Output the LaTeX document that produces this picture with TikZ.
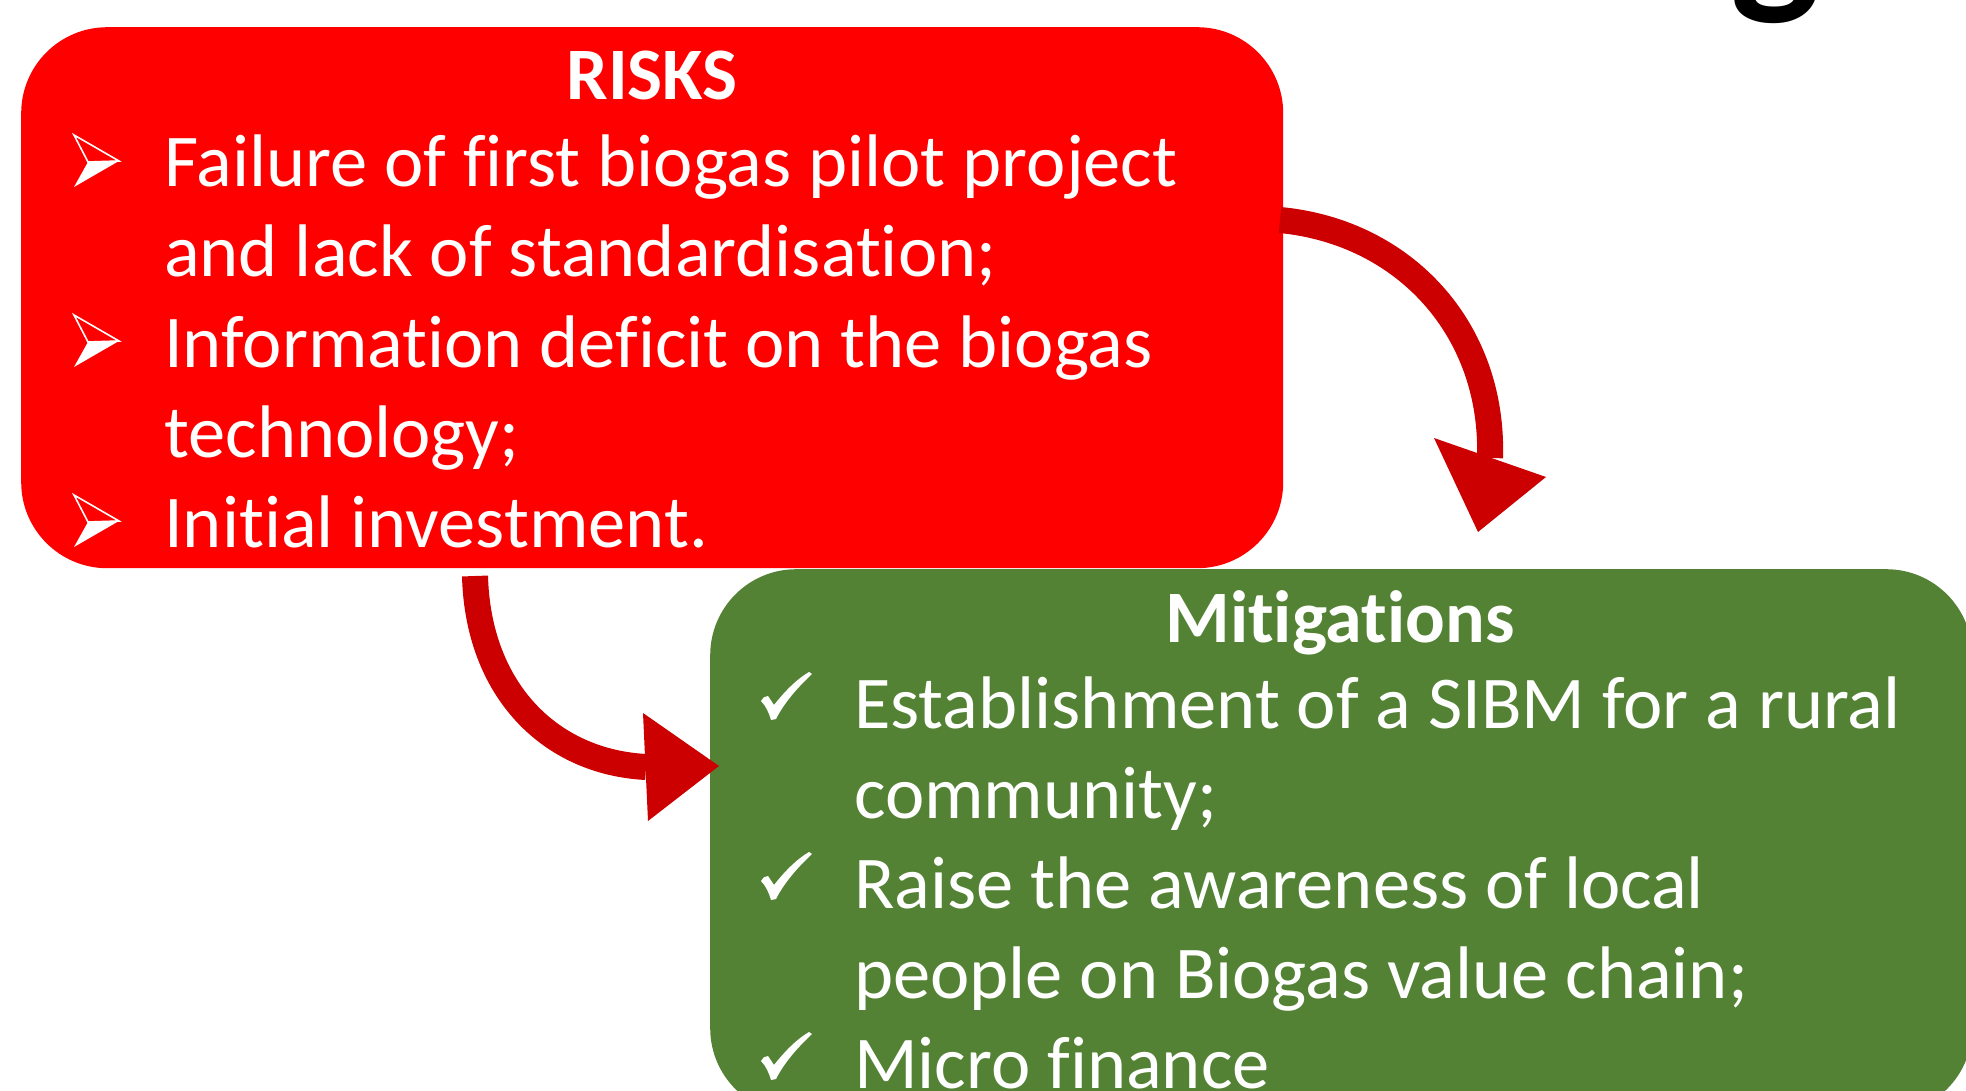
\documentclass[tikz,border=0pt]{standalone}
\usepackage{fontspec}
\setmainfont{Carlito}[Ligatures=NoCommon]
\definecolor{riskred}{HTML}{FF0000}
\definecolor{mitgreen}{HTML}{548235}
\definecolor{arrowred}{HTML}{CC0000}
\begin{document}
\begin{tikzpicture}[x=1pt,y=-1pt,
  box/.style={rounded corners=86pt, inner sep=0pt, anchor=north west, draw=none},
  body/.style={text=white, font=\fontsize{74.5}{88}\selectfont, anchor=base west, inner sep=0pt},
  boxtitle/.style={text=white, font=\bfseries\fontsize{74}{88}\selectfont, anchor=base, inner sep=0pt},
  conn/.style={draw=arrowred, line width=26pt},
  head/.style={fill=arrowred},
  arrowbullet/.pic={
    \draw[white, line width=1.6pt, line join=miter] (0,0) -- (45,26) -- (14,27) -- cycle;
    \fill[white] (14,27) -- (45,26) -- (0,52) -- cycle;
  },
  checkbullet/.pic={
    \fill[white] (0,28) .. controls (1,25) and (4,23) .. (7,23) -- (13,32)
      .. controls (24,18) and (36,6) .. (48,-1) -- (51,1)
      .. controls (37,14) and (23,30) .. (15,46) -- (10,47)
      .. controls (8,40) and (5,33) .. cycle;
  }]
\useasboundingbox (0,0) rectangle (1966,1091);
% partial title glyph at top
\node[inner sep=0pt, anchor=base, font=\bfseries\fontsize{190}{200}\selectfont] (ttl) at (1776,-8) {g};
% boxes
\node[box, fill=riskred, minimum width=1262pt, minimum height=541pt] (risks) at (21,27) {};
\node[box, fill=mitgreen, minimum width=1262pt, minimum height=545pt] (mitig) at (710,569) {};
% risks text
\node[boxtitle] (rt) at (652,100) {RISKS};
\pic at (74,135) {arrowbullet};
\node[body] (r1) at (164,187) {Failure of first biogas pilot project};
\node[body] (r2) at (164,277) {and lack of standardisation;};
\pic at (74,315) {arrowbullet};
\node[body] (r3) at (164,367) {Information deficit on the biogas};
\node[body] (r4) at (164,457) {technology;};
\pic at (74,495) {arrowbullet};
\node[body] (r5) at (164,547) {Initial investment.};
% mitigations text
\node[boxtitle] (mt) at (1340,642) {Mitigations};
\pic at (761,673) {checkbullet};
\node[body] (m1) at (854,728) {Establishment of a SIBM for a rural};
\node[body] (m2) at (854,818) {community;};
\pic at (761,853) {checkbullet};
\node[body] (m3) at (854,908) {Raise the awareness of local};
\node[body] (m4) at (854,998) {people on Biogas value chain;};
\pic at (761,1033) {checkbullet};
\node[body] (m5) at (854,1088) {Micro finance};
% connectors
\coordinate (a1s) at (1280,220);
\coordinate (a1e) at (1490,458);
\coordinate (a1l) at (1434,438);
\coordinate (a1r) at (1546,477);
\coordinate (a1t) at (1478,532);
\draw[conn] (a1s) .. controls (1405,232) and (1494,330) .. (a1e);
\fill[head] (a1l) -- (a1r) -- (a1t) -- cycle;
\coordinate (a2s) at (475,576);
\coordinate (a2e) at (646,767);
\coordinate (a2u) at (643,713);
\coordinate (a2d) at (648,821);
\coordinate (a2t) at (719,766);
\draw[conn] (a2s) .. controls (478,690) and (550,762) .. (a2e);
\fill[head] (a2u) -- (a2d) -- (a2t) -- cycle;
\end{tikzpicture}
\end{document}
